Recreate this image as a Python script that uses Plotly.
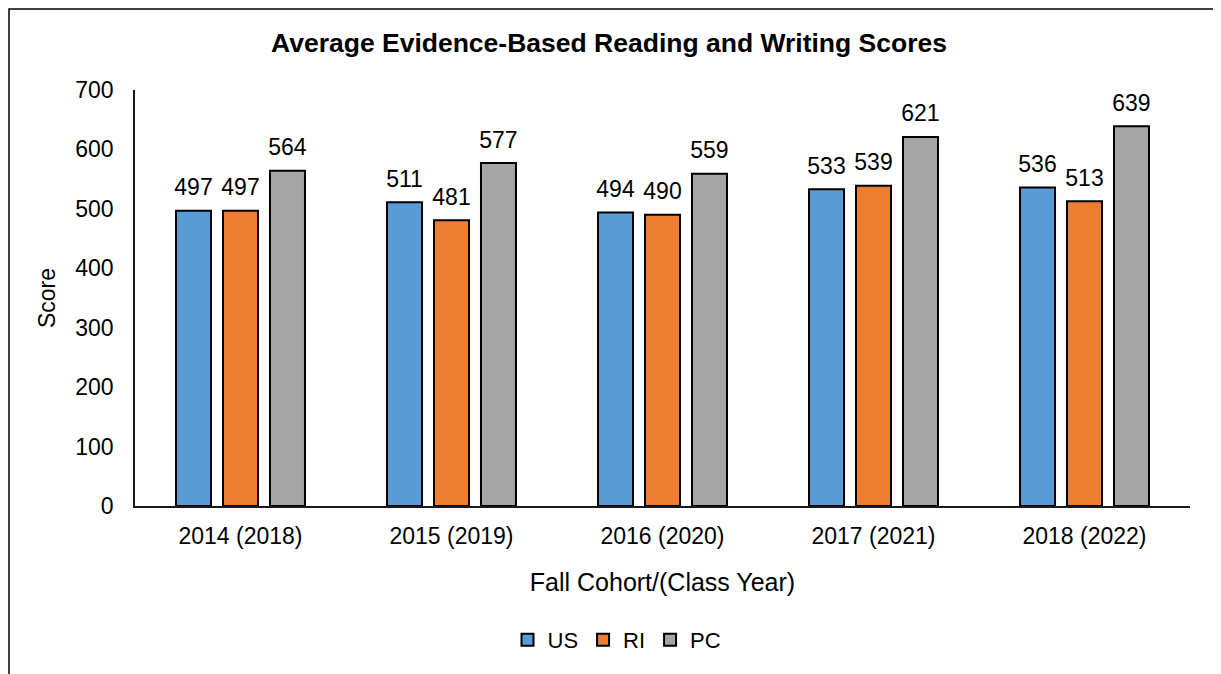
import plotly.graph_objects as go

categories = ["2014 (2018)", "2015 (2019)", "2016 (2020)", "2017 (2021)", "2018 (2022)"]
us_scores = [497, 511, 494, 533, 536]
ri_scores = [497, 481, 490, 539, 513]
pc_scores = [564, 577, 559, 621, 639]
series_names = ["US", "RI", "PC"]
series_colors = ["#5B9BD5", "#ED7D31", "#A5A5A5"]

FONT = "Arial, 'Liberation Sans', sans-serif"
BARGAP = 0.332

fig = go.Figure()
for name, vals, col in zip(series_names, [us_scores, ri_scores, pc_scores], series_colors):
    fig.add_trace(go.Bar(
        x=categories, y=vals, name=name, offsetgroup=name, alignmentgroup="g",
        marker=dict(color=col, line=dict(color="#000000", width=2)),
        hoverinfo="x+y+name",
    ))
# data labels, aligned with the bars through grouped scatter positioning
for name, vals in zip(series_names, [us_scores, ri_scores, pc_scores]):
    fig.add_trace(go.Scatter(
        x=categories, y=vals, name=name + " label", offsetgroup=name, alignmentgroup="g",
        mode="markers+text", text=[str(v) for v in vals], textposition="top center",
        textfont=dict(family=FONT, size=23, color="#000000"),
        marker=dict(size=14, opacity=0), showlegend=False, hoverinfo="skip", cliponaxis=False,
    ))

# page offset of 8px (body margin) accounted for
L, R, T, B = 127, 39, 82, 176
W, H = 1221, 674
pw, ph = W - L - R, H - T - B

def px_x(x):
    return (x - 8 - L) / pw

def px_y(y):
    return (H - B - (y - 8)) / ph

fig.update_layout(
    width=W, height=H,
    margin=dict(l=L, r=R, t=T, b=B),
    paper_bgcolor="white", plot_bgcolor="white",
    font=dict(family=FONT, color="#000000"),
    barmode="group", bargap=BARGAP, bargroupgap=0.255,
    scattermode="group", scattergap=BARGAP,
    title=dict(text="<b>Average Evidence-Based Reading and Writing Scores</b>",
               font=dict(family=FONT, size=26.5, color="#000000"),
               x=(609 - 8) / W, xanchor="center", xref="container",
               y=1 - 35 / H, yanchor="middle", yref="container"),
    xaxis=dict(showline=True, linecolor="#1a1a1a", linewidth=1.5, showgrid=False,
               ticks="", tickfont=dict(family=FONT, size=23, color="#000000"),
               ticklabelstandoff=9,
               title=dict(text="Fall Cohort/(Class Year)", font=dict(family=FONT, size=25, color="#000000"),
                          standoff=25)),
    yaxis=dict(range=[0, 700], dtick=100, showline=True, linecolor="#1a1a1a", linewidth=1.5,
               showgrid=False, zeroline=False, ticks="",
               tickfont=dict(family=FONT, size=23, color="#000000"),
               ticklabelstandoff=15,
               title=dict(text="Score", font=dict(family=FONT, size=23, color="#000000"), standoff=13)),
    legend=dict(orientation="h", x=px_x(617), xanchor="center", y=px_y(640), yanchor="middle",
                font=dict(family=FONT, size=22, color="#000000"), itemwidth=30,
                traceorder="normal"),
    showlegend=True,
)

fig.add_shape(type="rect", xref="paper", yref="paper",
              x0=px_x(9), x1=px_x(1216), y0=px_y(700), y1=px_y(9),
              line=dict(color="#000000", width=1.5), fillcolor="rgba(0,0,0,0)", layer="below")

fig.write_html("out.html")
